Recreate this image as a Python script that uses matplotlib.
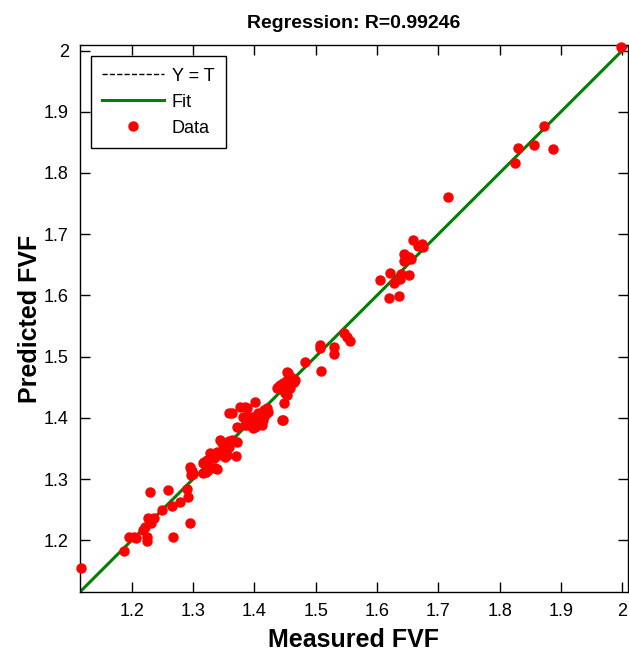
import numpy as np
import matplotlib
matplotlib.use("Agg")
import matplotlib.pyplot as plt

plt.rcParams['font.family'] = ['Liberation Sans', 'DejaVu Sans']

# measured (target) and predicted FVF values
measured = [
    1.117, 1.187, 1.195, 1.204, 1.207, 1.2245, 1.2245, 1.218, 1.2225, 1.227,
    1.2315, 1.2365, 1.230, 1.250, 1.268, 1.260, 1.265, 1.278, 1.291, 1.2925,
    1.295, 1.295, 1.298, 1.3005, 1.2965, 1.297, 1.318, 1.3215, 1.325, 1.316,
    1.339, 1.328, 1.3335, 1.341, 1.3495, 1.355, 1.347, 1.355, 1.344, 1.358,
    1.3715, 1.3635, 1.370, 1.3525, 1.358, 1.339, 1.3335, 1.3225, 1.317, 1.325,
    1.3525, 1.336, 1.3715, 1.385, 1.393, 1.3985, 1.404, 1.401, 1.412, 1.4095,
    1.358, 1.3635, 1.377, 1.385, 1.388, 1.401, 1.382, 1.389, 1.396, 1.4067,
    1.415, 1.4205, 1.423, 1.4177, 1.414, 1.4067, 1.390, 1.3985, 1.445, 1.4475,
    1.449, 1.437, 1.442, 1.4475, 1.453, 1.4557, 1.461, 1.464, 1.4503, 1.4585,
    1.454, 1.4585, 1.4667, 1.4394, 1.4475, 1.453, 1.483, 1.5086, 1.5075, 1.5064,
    1.5293, 1.5293, 1.5456, 1.551, 1.5565, 1.6043, 1.6218, 1.639, 1.6517, 1.638,
    1.6271, 1.619, 1.6367, 1.6434, 1.6517, 1.6434, 1.6552, 1.6588, 1.6663, 1.6735,
    1.6745, 1.7164, 1.8245, 1.8296, 1.8568, 1.8867, 1.872, 1.9973,
]
predicted = [
    1.155, 1.182, 1.206, 1.206, 1.204, 1.205, 1.199, 1.217, 1.222, 1.236,
    1.229, 1.237, 1.279, 1.249, 1.206, 1.2815, 1.2567, 1.263, 1.2845, 1.2714,
    1.229, 1.320, 1.3125, 1.3084, 1.3068, 1.315, 1.3285, 1.312, 1.315, 1.3095,
    1.316, 1.342, 1.334, 1.339, 1.3475, 1.339, 1.3585, 1.3585, 1.364, 1.363,
    1.361, 1.364, 1.337, 1.3557, 1.353, 1.345, 1.339, 1.331, 1.326, 1.323,
    1.3366, 1.318, 1.3843, 1.3884, 1.3937, 1.383, 1.391, 1.3856, 1.3884, 1.4019,
    1.4074, 1.4074, 1.4182, 1.4182, 1.4156, 1.4264, 1.402, 1.4006, 1.402, 1.4074,
    1.4128, 1.4156, 1.410, 1.4046, 1.3965, 1.391, 1.3884, 1.3965, 1.3965, 1.3965,
    1.4237, 1.4482, 1.4536, 1.4564, 1.4618, 1.4727, 1.4645, 1.459, 1.440, 1.4482,
    1.4753, 1.467, 1.4618, 1.4508, 1.4455, 1.437, 1.4916, 1.4764, 1.5188, 1.5134,
    1.5164, 1.5036, 1.5379, 1.5324, 1.526, 1.626, 1.637, 1.6343, 1.6341, 1.6276,
    1.6195, 1.5963, 1.5988, 1.6673, 1.6624, 1.6567, 1.6602, 1.6909, 1.6814, 1.6836,
    1.6792, 1.7607, 1.8162, 1.8413, 1.8462, 1.839, 1.876, 2.0065,
]

# fitted line: Output ~= slope*Target + intercept
fit_slope = 1.0
fit_intercept = 0.0
r_value = 0.99246

axis_lims = [1.1155, 2.009]
tick_vals = [1.2, 1.3, 1.4, 1.5, 1.6, 1.7, 1.8, 1.9, 2.0]
tick_labels = ["1.2", "1.3", "1.4", "1.5", "1.6", "1.7", "1.8", "1.9", "2"]

fig = plt.figure(figsize=(6.29, 6.53), dpi=100)
ax = fig.add_axes([0.127, 0.0934, 0.871, 0.8376])

lims = np.array(axis_lims)
# Y = T reference line, mostly hidden under the fit
ax.plot(lims, lims, color="black", linestyle="--", linewidth=1.0, label="Y = T", zorder=1)
ax.plot(lims, fit_slope * lims + fit_intercept, color=(0, 0.5, 0), linewidth=2.2,
        label="Fit", zorder=2)
ax.plot(measured, predicted, linestyle="none", marker="o", markersize=6.5,
        color="red", markeredgecolor="red", label="Data", zorder=3, clip_on=False)

ax.set_xlim(axis_lims)
ax.set_ylim(axis_lims)
ax.set_xticks(tick_vals)
ax.set_xticklabels(tick_labels)
ax.set_yticks(tick_vals)
ax.set_yticklabels(tick_labels)
ax.tick_params(direction="in", length=7, width=1, top=True, right=True,
               labelsize=13, pad=8)
for sp in ax.spines.values():
    sp.set_linewidth(1.0)

ax.set_title("Regression: R=%.5f" % r_value, fontsize=14, fontweight="bold", pad=12)
ax.set_xlabel("Measured FVF", fontsize=18, fontweight="bold", labelpad=6)
ax.set_ylabel("Predicted FVF", fontsize=18, fontweight="bold", labelpad=1)

leg = ax.legend(loc="upper left", fontsize=13, handlelength=3.4, handletextpad=0.45,
                fancybox=False, edgecolor="black", framealpha=1, borderpad=0.65,
                labelspacing=0.5, bbox_to_anchor=(0.0, 1.0), borderaxespad=0.6)
leg.get_frame().set_linewidth(1.0)

plt.savefig("out.png", dpi=100)
